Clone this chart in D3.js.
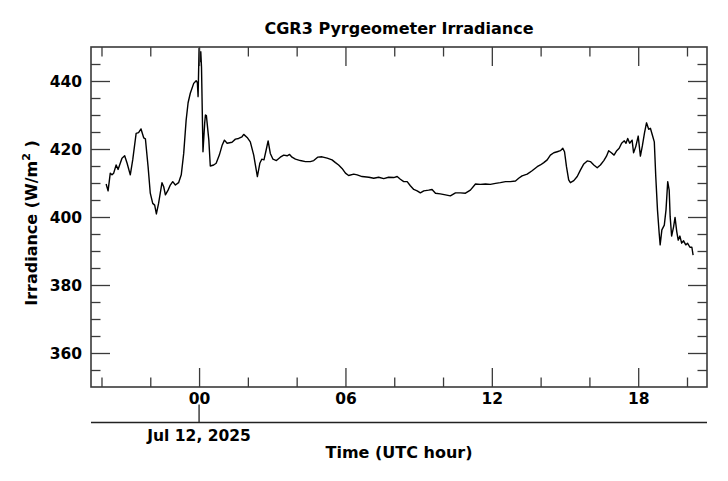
<!DOCTYPE html>
<html>
<head>
<meta charset="utf-8">
<script src="https://cdn.jsdelivr.net/npm/d3@7"></script>
<style>
  html, body { margin: 0; padding: 0; background: #fff; }
  svg { display: block; font-family: "DejaVu Sans", sans-serif; }
  text { font-weight: bold; fill: #000; }
</style>
</head>
<body>
<svg id="chart" width="728" height="481"></svg>
<script>
// ---- data (hours relative to 2025-07-12 00:00 UTC, irradiance W/m^2) ----
const hours = [
  -3.81,-3.73,-3.64,-3.57,-3.50,-3.40,-3.32,-3.16,-3.05,-2.95,-2.82,-2.72,-2.58,-2.48,-2.38,-2.27,-2.20,-2.09,-2.00,-1.90,
  -1.82,-1.75,-1.66,-1.52,-1.45,-1.38,-1.27,-1.18,-1.08,-0.97,-0.84,-0.73,-0.63,-0.53,-0.45,-0.36,-0.22,-0.12,-0.07,-0.04,
  0.00,0.04,0.07,0.10,0.16,0.23,0.26,0.30,0.40,0.46,0.60,0.70,0.83,0.95,1.04,1.15,1.35,1.49,1.62,1.76,
  1.83,1.97,2.10,2.24,2.32,2.39,2.49,2.57,2.66,2.75,2.83,2.92,3.03,3.17,3.33,3.47,3.61,3.71,3.81,3.95,
  4.15,4.36,4.56,4.70,4.86,5.04,5.25,5.45,5.59,5.72,5.86,6.00,6.13,6.34,6.48,6.68,6.96,7.16,7.36,7.57,
  7.77,7.98,8.12,8.25,8.39,8.53,8.66,8.80,8.94,9.07,9.21,9.41,9.55,9.69,9.89,10.10,10.30,10.51,10.71,10.92,
  11.12,11.33,11.53,11.74,11.94,12.15,12.35,12.56,12.76,12.97,13.10,13.24,13.45,13.65,13.86,13.99,14.13,14.27,14.40,14.54,
  14.68,14.81,14.91,14.98,15.06,15.15,15.22,15.36,15.50,15.63,15.77,15.91,16.04,16.18,16.32,16.45,16.59,16.70,16.79,16.90,
  17.01,17.12,17.22,17.32,17.43,17.50,17.57,17.65,17.75,17.81,17.90,18.00,18.09,18.17,18.26,18.34,18.43,18.50,18.60,18.66,
  18.72,18.79,18.86,18.90,18.97,19.07,19.14,19.21,19.27,19.31,19.37,19.45,19.51,19.58,19.64,19.71,19.78,19.86,19.95,20.02,
  20.12,20.20,20.25
];
const irradiance = [
  409.7,407.7,412.9,412.4,412.9,415.3,414.0,417.3,418.0,415.8,412.4,416.8,424.6,424.8,425.9,423.3,423.0,414.8,407.0,404.0,
  403.5,400.9,404.0,410.1,408.9,406.5,407.9,409.4,410.4,409.4,410.1,412.4,418.7,428.5,433.6,436.4,439.3,440.1,439.5,435.4,
  449.6,445.7,448.6,444.0,419.2,427.6,430.0,429.8,422.6,415.0,415.3,415.8,418.2,421.2,422.6,421.7,422.0,422.9,423.1,423.6,
  424.3,423.4,422.1,418.2,414.8,411.9,415.8,417.0,416.8,419.7,422.4,418.7,417.0,416.6,417.6,418.2,418.0,418.4,417.6,417.0,
  416.6,416.3,416.3,416.6,417.6,417.7,417.3,416.8,416.0,415.3,414.3,412.9,412.2,412.6,412.4,411.9,411.7,411.4,411.7,411.3,
  411.7,411.6,411.9,411.1,410.4,410.4,409.2,408.1,407.7,407.1,407.7,407.9,408.1,407.0,406.8,406.5,406.2,407.1,407.1,407.0,
  407.9,409.7,409.6,409.7,409.6,409.9,410.1,410.4,410.4,410.6,411.4,412.1,412.6,413.6,414.8,415.3,416.0,416.8,418.2,418.9,
  419.2,419.5,420.2,419.2,414.8,410.9,410.1,410.7,411.9,413.8,415.6,416.5,416.3,415.3,414.5,415.3,416.6,417.9,419.5,418.9,
  418.2,419.5,420.2,421.7,422.4,421.7,423.1,421.7,422.6,418.9,420.7,423.8,417.9,420.9,424.8,427.7,425.8,426.1,423.6,422.1,
  411.9,402.1,395.2,391.8,396.2,397.6,402.1,410.4,407.9,400.1,394.4,397.1,399.9,395.7,393.2,394.4,392.3,393.0,391.8,392.3,
  391.1,391.1,388.8
];
const xMajorTicks = [0, 6, 12, 18];
const xTickLabels = ["00", "06", "12", "18"];
const xMinorTicks = [-4, -2, 2, 4, 8, 10, 14, 16, 20];
const yMajorTicks = [360, 380, 400, 420, 440];
const yMinorTicks = [355, 365, 370, 375, 385, 390, 395, 405, 410, 415, 425, 430, 435, 445];
const xDomain = [-4.43, 20.82];
const yDomain = [350, 450];
const dateLabel = "Jul 12, 2025";
const dateTickHour = 0;
const titleText = "CGR3 Pyrgeometer Irradiance";
const xTitle = "Time (UTC hour)";

// ---- layout ----
const mL = 91, mR = 707, mT = 47, mB = 387;
const svg = d3.select("#chart");
const x = d3.scaleLinear().domain(xDomain).range([mL, mR]);
const y = d3.scaleLinear().domain(yDomain).range([mB, mT]);
const axisColor = "#3a3a3a";
const majorLen = 19, minorLen = 9.5;
const tickFont = 15.5, titleFont = 16;

// data line (clipped)
svg.append("clipPath").attr("id", "clip").append("rect")
  .attr("x", mL).attr("y", mT).attr("width", mR - mL).attr("height", mB - mT);
const pts = hours.map((h, i) => [h, irradiance[i]]);
svg.append("path")
  .datum(pts)
  .attr("clip-path", "url(#clip)")
  .attr("fill", "none")
  .attr("stroke", "#000")
  .attr("stroke-width", 1.4)
  .attr("stroke-linejoin", "round")
  .attr("d", d3.line().x(d => x(d[0])).y(d => y(d[1])));

function styleAxis(g) {
  g.select(".domain").remove();
  g.selectAll("line").attr("stroke", axisColor).attr("stroke-width", 1.3);
}
function styleText(g) {
  g.selectAll("text").attr("font-size", tickFont).attr("font-family", "DejaVu Sans")
    .attr("font-weight", "bold").attr("fill", "#000");
}
// bottom
svg.append("g").attr("transform", `translate(0,${mB})`)
  .call(d3.axisBottom(x).tickValues(xMajorTicks).tickSize(-majorLen).tickFormat((d, i) => xTickLabels[i]))
  .call(styleAxis).call(styleText)
  .call(g => g.selectAll("text").attr("dy", null).attr("y", 17));
svg.append("g").attr("transform", `translate(0,${mB})`)
  .call(d3.axisBottom(x).tickValues(xMinorTicks).tickSize(-minorLen).tickFormat(""))
  .call(styleAxis);
// top
svg.append("g").attr("transform", `translate(0,${mT})`)
  .call(d3.axisTop(x).tickValues(xMajorTicks).tickSize(-majorLen).tickFormat(""))
  .call(styleAxis);
svg.append("g").attr("transform", `translate(0,${mT})`)
  .call(d3.axisTop(x).tickValues(xMinorTicks).tickSize(-minorLen).tickFormat(""))
  .call(styleAxis);
// left
svg.append("g").attr("transform", `translate(${mL},0)`)
  .call(d3.axisLeft(y).tickValues(yMajorTicks).tickSize(-majorLen).tickFormat(d3.format("d")))
  .call(styleAxis).call(styleText)
  .call(g => g.selectAll("text").attr("x", -9).attr("dy", "0.36em"));
svg.append("g").attr("transform", `translate(${mL},0)`)
  .call(d3.axisLeft(y).tickValues(yMinorTicks).tickSize(-minorLen).tickFormat(""))
  .call(styleAxis);
// right
svg.append("g").attr("transform", `translate(${mR},0)`)
  .call(d3.axisRight(y).tickValues(yMajorTicks).tickSize(-majorLen).tickFormat(""))
  .call(styleAxis);
svg.append("g").attr("transform", `translate(${mR},0)`)
  .call(d3.axisRight(y).tickValues(yMinorTicks).tickSize(-minorLen).tickFormat(""))
  .call(styleAxis);

// frame
svg.append("rect")
  .attr("x", mL).attr("y", mT).attr("width", mR - mL).attr("height", mB - mT)
  .attr("fill", "none").attr("stroke", axisColor).attr("stroke-width", 1.6);

// secondary date axis
const dateY = 422.5;
svg.append("line").attr("x1", mL).attr("x2", mR).attr("y1", dateY).attr("y2", dateY)
  .attr("stroke", "#222").attr("stroke-width", 1.3);
svg.append("line").attr("x1", x(dateTickHour)).attr("x2", x(dateTickHour)).attr("y1", dateY).attr("y2", 404.5)
  .attr("stroke", "#222").attr("stroke-width", 1.3);
svg.append("text").attr("x", x(dateTickHour)).attr("y", 440.5)
  .attr("text-anchor", "middle").attr("font-size", tickFont).text(dateLabel);

// titles
svg.append("text").attr("x", (mL + mR) / 2).attr("y", 33.5)
  .attr("text-anchor", "middle").attr("font-size", titleFont).text(titleText);
svg.append("text").attr("x", (mL + mR) / 2).attr("y", 457.5)
  .attr("text-anchor", "middle").attr("font-size", titleFont).text(xTitle);

const yt = svg.append("text")
  .attr("transform", `translate(37,${(mT + mB) / 2 + 6}) rotate(-90)`)
  .attr("text-anchor", "middle").attr("font-size", titleFont);
yt.append("tspan").text("Irradiance (W/m");
yt.append("tspan").attr("dy", -7).attr("font-size", 11).text("2");
yt.append("tspan").attr("dy", 7).text(" )");
</script>
</body>
</html>
